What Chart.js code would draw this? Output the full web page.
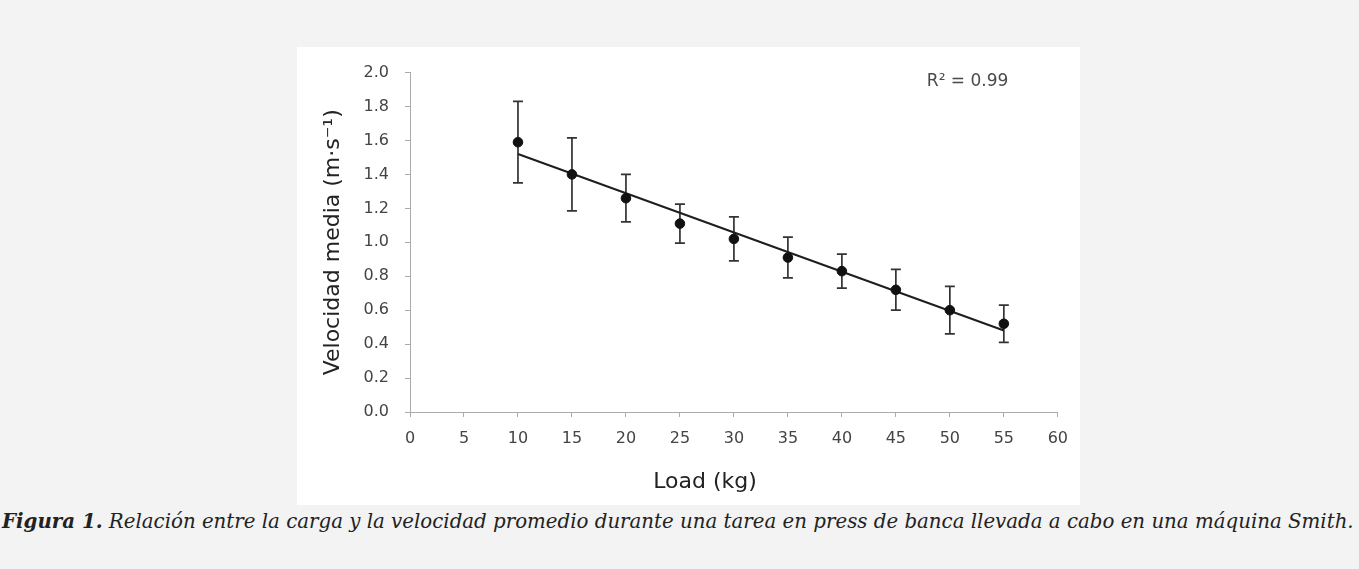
<!DOCTYPE html>
<html lang="es">
<head>
<meta charset="utf-8">
<title>Figura 1</title>
<script src="https://cdn.jsdelivr.net/npm/chart.js@4.4.1/dist/chart.umd.min.js"></script>
<style>
    html, body { margin: 0; padding: 0; }
    body { width: 1359px; height: 569px; background: #f3f3f3; position: relative; overflow: hidden; }
    #frame { position: absolute; left: 297px; top: 47px; width: 783px; height: 458px; background: #fff; }
    #frame canvas { display: block; }
    .caption { position: absolute; left: 2px; top: 509px; margin: 0; white-space: nowrap;
               font-family: "DejaVu Serif", serif; font-style: italic; font-size: 19.8px; color: #222; }
</style>
</head>
<body>
<div id="frame"><canvas id="loadVelocityChart" width="783" height="458"></canvas></div>
<p class="caption"><b>Figura 1.</b> Relación entre la carga y la velocidad promedio durante una tarea en press de banca llevada a cabo en una máquina Smith.</p>

<script>
// Data
const loads = [10, 15, 20, 25, 30, 35, 40, 45, 50, 55];
const velocity = [1.59, 1.40, 1.26, 1.11, 1.02, 0.91, 0.83, 0.72, 0.60, 0.52];
const velocitySd = [0.24, 0.215, 0.14, 0.115, 0.13, 0.12, 0.10, 0.12, 0.14, 0.11];

// Linear fit drawn on the figure (end points)
const trendLoads = [10, 55];
const trendVelocity = [1.52, 0.48];

const xTicks = [0, 5, 10, 15, 20, 25, 30, 35, 40, 45, 50, 55, 60];
const yTicks = [0, 0.2, 0.4, 0.6, 0.8, 1.0, 1.2, 1.4, 1.6, 1.8, 2.0];
const r2Label = 'R² = 0.99';

document.addEventListener('DOMContentLoaded', function() {

    const axisColor = '#ababab';
    const tickFont = { family: 'DejaVu Sans', size: 16 };

    // error bars (mean ± SD), drawn under the points
    const errorBars = {
        id: 'errorBars',
        beforeDatasetsDraw(chart) {
            const { ctx, scales: { x, y } } = chart;
            ctx.save();
            ctx.strokeStyle = '#333';
            ctx.lineWidth = 1.7;
            loads.forEach((load, i) => {
                const px = x.getPixelForValue(load);
                const top = y.getPixelForValue(velocity[i] + velocitySd[i]);
                const bottom = y.getPixelForValue(velocity[i] - velocitySd[i]);
                ctx.beginPath();
                ctx.moveTo(px, top); ctx.lineTo(px, bottom);
                ctx.moveTo(px - 5, top); ctx.lineTo(px + 5, top);
                ctx.moveTo(px - 5, bottom); ctx.lineTo(px + 5, bottom);
                ctx.stroke();
            });
            ctx.restore();
        }
    };

    // R² note and x axis title
    const chartLabels = {
        id: 'chartLabels',
        afterDraw(chart) {
            const { ctx, chartArea } = chart;
            ctx.save();
            ctx.textBaseline = 'middle';
            ctx.textAlign = 'left';
            ctx.fillStyle = '#4a4a4a';
            ctx.font = '17px "DejaVu Sans"';
            ctx.fillText(r2Label, chartArea.right - 131, chartArea.top + 9);

            ctx.textAlign = 'center';
            ctx.fillStyle = '#222';
            ctx.font = '22px "DejaVu Sans"';
            ctx.fillText('Load (kg)', 408, 435);
            ctx.restore();
        }
    };

    new Chart(document.getElementById('loadVelocityChart'), {
        type: 'scatter',
        data: {
            datasets: [
                {
                    label: 'Velocidad media',
                    data: loads.map((l, i) => ({ x: l, y: velocity[i] })),
                    backgroundColor: '#111',
                    borderColor: '#111',
                    pointRadius: 4.8,
                    pointHoverRadius: 4.8
                },
                {
                    label: 'Ajuste lineal',
                    data: trendLoads.map((l, i) => ({ x: l, y: trendVelocity[i] })),
                    showLine: true,
                    borderColor: '#1e1e1e',
                    borderWidth: 2,
                    pointRadius: 0
                }
            ]
        },
        options: {
            responsive: false,
            animation: false,
            devicePixelRatio: 1,
            layout: { padding: { top: 16, right: 16, bottom: 0, left: 0 } },
            plugins: { legend: { display: false }, tooltip: { enabled: false } },
            scales: {
                x: {
                    type: 'linear',
                    min: 0,
                    max: 60,
                    afterBuildTicks: scale => { scale.ticks = xTicks.map(v => ({ value: v })); },
                    afterFit: scale => { scale.height = 93; },
                    grid: { drawOnChartArea: false, drawTicks: true, tickLength: 5, color: axisColor },
                    border: { color: axisColor, width: 1 },
                    ticks: { font: tickFont, color: '#444', padding: 12, maxRotation: 0 }
                },
                y: {
                    min: 0,
                    max: 2,
                    afterBuildTicks: scale => { scale.ticks = yTicks.map(v => ({ value: v })); },
                    afterFit: scale => { scale.width = 113; },
                    grid: { drawOnChartArea: false, drawTicks: true, tickLength: 5, color: axisColor },
                    border: { color: axisColor, width: 1 },
                    ticks: {
                        font: tickFont,
                        color: '#444',
                        padding: 16,
                        callback: v => v.toFixed(1)
                    },
                    title: {
                        display: true,
                        text: 'Velocidad media (m·s⁻¹)',
                        color: '#222',
                        font: { family: 'DejaVu Sans', size: 22 },
                        padding: { top: 23, bottom: 0 }
                    }
                }
            }
        },
        plugins: [errorBars, chartLabels]
    });
});
</script>
</body>
</html>
